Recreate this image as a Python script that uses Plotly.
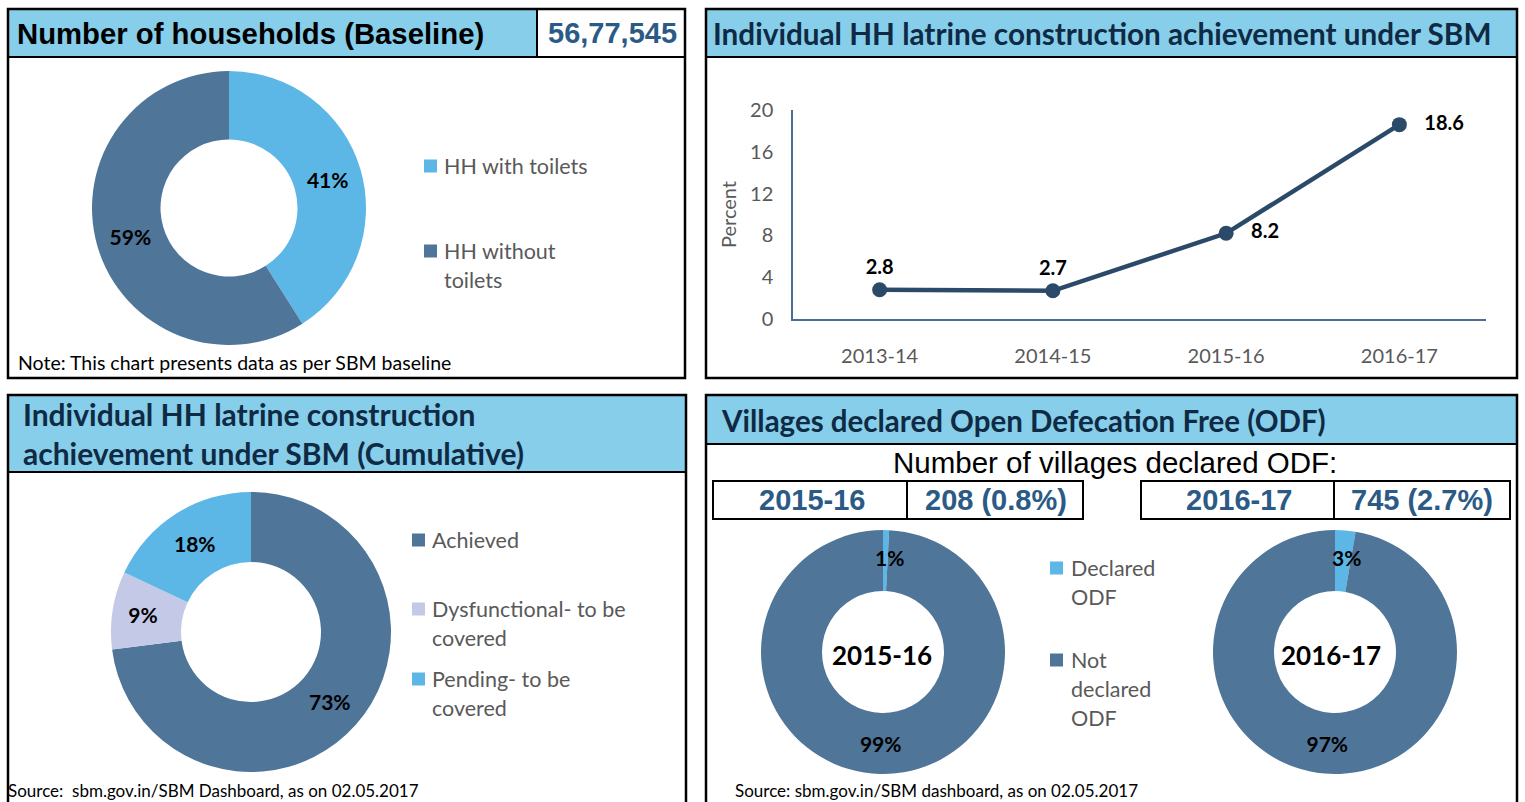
import math
import plotly.graph_objects as go

W, H = 1525, 802

# ---------------- data ----------------
hh_labels = ["HH with toilets", "HH without<br>toilets"]
hh_values = [41, 59]
baseline_hh = "56,77,545"

years = ["2013-14", "2014-15", "2015-16", "2016-17"]
ihhl_pct = [2.8, 2.7, 8.2, 18.6]
label_pos = ["top center", "top center", "middle right", "middle right"]
y_ticks = [0, 4, 8, 12, 16, 20]

cum_labels = ["Achieved", "Dysfunctional- to be<br>covered", "Pending- to be<br>covered"]
cum_values = [73, 9, 18]

odf_labels = ["Declared<br>ODF", "Not<br>declared<br>ODF"]
odf_years = ["2015-16", "2016-17"]
odf_counts = ["208 (0.8%)", "745 (2.7%)"]
odf_2015 = [0.8, 99.2]
odf_2016 = [2.7, 97.3]

# ---------------- style ----------------
LIGHT = "#5DB7E6"
DARK = "#4F7599"
LAVENDER = "#C3C9E7"
TITLE_BG = "#87CEEA"
NAVY = "#0F2A44"
VAL_BLUE = "#2B5A86"
GRAY = "#595959"
CAL = "Lato, Carlito, Calibri, sans-serif"
NARROW = "Liberation Sans Narrow, Arial Narrow, Liberation Sans, Arial, sans-serif"
ARIAL = "Liberation Sans, Arial, sans-serif"
PCT_SIZE = 21


def px(x):
    return x / W


def py(y):
    return 1 - y / H


def dom(cx, cy, r):
    return dict(x=[px(cx - r), px(cx + r)], y=[py(cy + r), py(cy - r)])


fig = go.Figure()
shapes = []
ann = []


def text(x, y, s, size, color="black", family=CAL, bold=False, xanchor="left"):
    ann.append(dict(x=px(x), y=py(y), xref="paper", yref="paper", text=s,
                    showarrow=False, xanchor=xanchor, yanchor="middle",
                    font=dict(family=family, size=size, color=color,
                              weight="bold" if bold else "normal")))


def donut(labels, values, colors, cx, cy, r, min_inside=5):
    total = float(sum(values))
    pct_txt = [f"{round(v / total * 100):.0f}%" for v in values]
    inside = [t if v / total * 100 >= min_inside else "" for t, v in zip(pct_txt, values)]
    fig.add_trace(go.Pie(
        labels=labels, values=values, domain=dom(cx, cy, r), hole=0.5,
        sort=False, direction="clockwise", rotation=0,
        text=inside, texttemplate="%{text}", textposition="inside",
        insidetextorientation="horizontal",
        textfont=dict(family=CAL, size=PCT_SIZE, color="black", weight="bold"),
        marker=dict(colors=colors), showlegend=False, hoverinfo="label+percent"))
    # labels of very thin slices, placed at the slice's mid-ring point
    cum = 0.0
    for v, t in zip(values, pct_txt):
        if v / total * 100 < min_inside:
            a = math.radians((cum + v / 2) / total * 360)
            rm = 0.75 * r
            text(cx + rm * math.sin(a) + 4, cy - rm * math.cos(a) - 3, t, PCT_SIZE,
                 bold=True, xanchor="center")
        cum += v


donut(hh_labels, hh_values, [LIGHT, DARK], 229, 208, 137)
donut(cum_labels, cum_values, [DARK, LAVENDER, LIGHT], 251, 632, 140)
donut(odf_labels, odf_2015, [LIGHT, DARK], 883, 652, 122)
donut(odf_labels, odf_2016, [LIGHT, DARK], 1335, 652, 122)

NB = "\u00a0"
fig.add_trace(go.Scatter(
    x=years, y=ihhl_pct, mode="lines+markers+text",
    text=[(NB * 3 + f"{v}") if "right" in p else f"{v}" for v, p in zip(ihhl_pct, label_pos)],
    textposition=label_pos,
    textfont=dict(family=CAL, size=20, color="black", weight="bold"),
    line=dict(color="#2B4A69", width=4.5),
    marker=dict(size=15, color="#2B4A69"),
    cliponaxis=False, showlegend=False))

axis_col = "#4A6E91"
fig.update_layout(
    width=W, height=H, margin=dict(l=0, r=0, t=0, b=0, pad=0, autoexpand=False),
    paper_bgcolor="white", plot_bgcolor="white",
    uniformtext=dict(minsize=PCT_SIZE, mode="show"),
    xaxis=dict(domain=[px(793), px(1486)], type="category", range=[-0.5, 3.5],
               showline=True, linecolor=axis_col, linewidth=1.5, showgrid=False,
               zeroline=False, ticks="", ticklabelstandoff=18, automargin=False,
               tickfont=dict(family=CAL, size=20, color=GRAY)),
    yaxis=dict(domain=[py(319), py(110)], range=[0, 20], tickvals=y_ticks,
               showline=True, linecolor=axis_col, linewidth=1.5, showgrid=False,
               zeroline=False, ticks="", ticklabelstandoff=14, automargin=False,
               tickfont=dict(family=CAL, size=20, color=GRAY),
               title=dict(text="Percent", standoff=8,
                          font=dict(family=CAL, size=20, color=GRAY))),
)


def rect(x0, y0, x1, y1, fill=None, lw=2, lc="black"):
    shapes.append(dict(type="rect", xref="paper", yref="paper",
                       x0=px(x0), x1=px(x1), y0=py(y1), y1=py(y0),
                       fillcolor=fill if fill else "rgba(0,0,0,0)",
                       line=dict(color=lc, width=lw)))


def line(x0, y0, x1, y1, lw=2):
    shapes.append(dict(type="line", xref="paper", yref="paper",
                       x0=px(x0), x1=px(x1), y0=py(y0), y1=py(y1),
                       line=dict(color="black", width=lw)))


# panels
rect(9, 10, 537, 57, fill=TITLE_BG, lw=0)
rect(8, 9, 685, 378, lw=2.5)
line(8, 57, 685, 57)
line(537, 9, 537, 57)

rect(707, 10, 1516, 57, fill=TITLE_BG, lw=0)
rect(706, 9, 1517, 378, lw=2.5)
line(706, 57, 1517, 57)

rect(9, 396, 685, 472, fill=TITLE_BG, lw=0)
rect(8, 395, 686, 812, lw=2.5)
line(8, 472, 686, 472)

rect(707, 396, 1516, 444, fill=TITLE_BG, lw=0)
rect(706, 395, 1517, 812, lw=2.5)
line(706, 444, 1517, 444)

# year boxes
rect(713, 481, 907, 519, lw=2)
rect(907, 481, 1083, 519, lw=2)
rect(1141, 481, 1334, 519, lw=2)
rect(1334, 481, 1510, 519, lw=2)

# titles
text(15, 33, "Number of households (Baseline)", 29.3, family=NARROW, bold=True)
text(612, 33, baseline_hh, 29, color=VAL_BLUE, family=NARROW, bold=True, xanchor="center")
text(711, 33, "Individual HH latrine construction achievement under SBM", 29.7, color=NAVY, bold=True)
text(21, 414, "Individual HH latrine construction", 30, color=NAVY, bold=True)
text(21, 453, "achievement under SBM (Cumulative)", 30, color=NAVY, bold=True)
text(719, 420, "Villages declared Open Defecation Free (ODF)", 29.5, color=NAVY, bold=True)
text(1115, 463, "Number of villages declared ODF:", 29.5, family=ARIAL, xanchor="center")

box_centers = [(812, 996), (1239, 1422)]
for (c1, c2), yr, cnt in zip(box_centers, odf_years, odf_counts):
    text(c1, 500, yr, 29, color=VAL_BLUE, family=NARROW, bold=True, xanchor="center")
    text(c2, 500, cnt, 29, color=VAL_BLUE, family=NARROW, bold=True, xanchor="center")

# donut centre labels
text(882, 655, odf_years[0], 26, bold=True, xanchor="center")
text(1331, 655, odf_years[1], 26, bold=True, xanchor="center")

# notes
text(16, 363, "Note: This chart presents data as per SBM baseline", 19.5)
text(6, 790, "Source:  sbm.gov.in/SBM Dashboard, as on 02.05.2017", 17)
text(733, 790, "Source: sbm.gov.in/SBM dashboard, as on 02.05.2017", 17)


# legends (drawn as squares + text)
def legend(labels, colors, sx, text_x, first_line_ys, lh=29):
    for lab, col, y0 in zip(labels, colors, first_line_ys):
        shapes.append(dict(type="rect", xref="paper", yref="paper",
                           x0=px(sx), x1=px(sx + 13), y0=py(y0 + 6.5), y1=py(y0 - 6.5),
                           fillcolor=col, line=dict(width=0)))
        for i, part in enumerate(lab.split("<br>")):
            text(text_x, y0 + i * lh, part, 21.5, color=GRAY)


legend(hh_labels, [LIGHT, DARK], 424, 442, [166, 251])
legend(cum_labels, [DARK, LAVENDER, LIGHT], 412, 430, [540, 609, 679])
legend(odf_labels, [LIGHT, DARK], 1050, 1069, [568, 660])

fig.update_layout(shapes=shapes, annotations=ann)
fig.write_html("out.html")
